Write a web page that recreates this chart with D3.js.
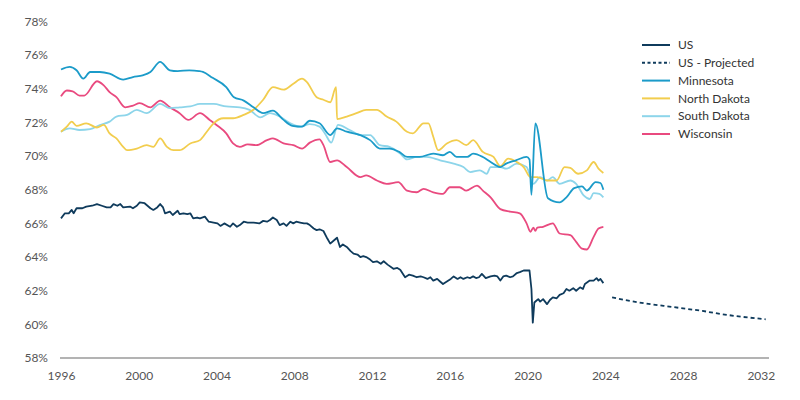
<!DOCTYPE html>
<html>
<head>
<meta charset="utf-8">
<script src="https://cdn.jsdelivr.net/npm/d3@7"></script>
<style>
  body { margin: 0; background: #fff; }
  svg text { font-family: Lato, "Noto Sans", sans-serif; }
</style>
</head>
<body>
<div id="chart"></div>
<script>
// [year, participation rate %]
const usRate = [[1996.0,66.3],[1996.2,66.6],[1996.4,66.6],[1996.55,66.8],[1996.65,66.6],[1996.8,66.9],[1997.1,66.9],[1997.3,67.0],[1997.6,67.05],[1997.85,67.15],[1998.1,67.05],[1998.35,66.95],[1998.55,66.95],[1998.7,67.15],[1998.9,67.05],[1999.05,67.15],[1999.2,66.95],[1999.55,67.0],[1999.7,66.9],[1999.9,67.05],[2000.05,67.25],[2000.3,67.2],[2000.6,66.9],[2000.75,66.8],[2000.95,66.95],[2001.1,67.15],[2001.25,66.95],[2001.35,66.6],[2001.6,66.7],[2001.75,66.5],[2002.0,66.75],[2002.1,66.55],[2002.3,66.6],[2002.5,66.55],[2002.65,66.6],[2002.8,66.3],[2003.0,66.35],[2003.15,66.3],[2003.4,66.4],[2003.6,66.1],[2003.85,66.05],[2004.05,66.0],[2004.2,65.85],[2004.4,66.0],[2004.7,65.8],[2004.85,66.0],[2005.05,65.8],[2005.2,65.9],[2005.4,66.1],[2005.6,66.05],[2005.9,66.05],[2006.2,66.0],[2006.4,66.15],[2006.6,66.1],[2006.75,66.2],[2006.9,66.35],[2007.1,66.2],[2007.25,65.9],[2007.45,66.0],[2007.6,65.85],[2007.8,66.1],[2007.95,66.0],[2008.1,66.1],[2008.3,66.05],[2008.5,66.0],[2008.65,66.0],[2008.8,65.9],[2009.0,65.7],[2009.15,65.6],[2009.3,65.65],[2009.5,65.55],[2009.7,65.1],[2009.85,64.8],[2010.05,65.0],[2010.2,65.15],[2010.35,64.6],[2010.5,64.75],[2010.7,64.6],[2010.9,64.35],[2011.05,64.2],[2011.25,64.15],[2011.4,64.0],[2011.55,64.05],[2011.7,64.0],[2011.9,63.85],[2012.05,63.7],[2012.25,63.75],[2012.45,63.6],[2012.6,63.75],[2012.8,63.55],[2013.1,63.3],[2013.3,63.35],[2013.45,63.25],[2013.7,62.8],[2013.9,62.95],[2014.1,62.9],[2014.3,62.8],[2014.5,62.85],[2014.65,62.8],[2014.85,62.7],[2015.0,62.8],[2015.15,62.6],[2015.35,62.7],[2015.5,62.55],[2015.65,62.4],[2015.85,62.55],[2016.05,62.7],[2016.2,62.85],[2016.4,62.7],[2016.55,62.8],[2016.7,62.7],[2016.9,62.8],[2017.05,62.75],[2017.2,62.85],[2017.35,62.75],[2017.5,62.8],[2017.65,63.0],[2017.85,62.75],[2018.1,62.85],[2018.3,62.9],[2018.45,62.85],[2018.6,62.6],[2018.75,62.85],[2018.9,62.9],[2019.1,62.8],[2019.25,62.85],[2019.45,63.05],[2019.6,63.1],[2019.8,63.2],[2020.1,63.2],[2020.2,62.1],[2020.27,60.1],[2020.35,61.3],[2020.45,61.4],[2020.55,61.5],[2020.65,61.35],[2020.8,61.5],[2021.0,61.2],[2021.15,61.45],[2021.3,61.6],[2021.5,61.55],[2021.65,61.75],[2021.85,61.85],[2022.0,62.1],[2022.15,62.0],[2022.35,62.15],[2022.5,62.0],[2022.7,62.2],[2022.85,62.1],[2022.95,62.4],[2023.2,62.6],[2023.4,62.6],[2023.55,62.75],[2023.65,62.6],[2023.75,62.7],[2023.9,62.45]];

const usProjected = [[2024.35,61.6],[2025,61.45],[2026,61.25],[2027,61.1],[2028,60.95],[2029,60.8],[2030,60.6],[2031,60.45],[2032.25,60.3]];

const minnesota = [[1996.0,75.15],[1996.45,75.3],[1996.8,75.1],[1997.15,74.6],[1997.5,75.0],[1998.0,75.0],[1998.5,74.9],[1999.2,74.55],[1999.7,74.7],[2000.2,74.8],[2000.6,75.0],[2001.1,75.6],[2001.6,75.1],[2002.0,75.05],[2002.6,75.1],[2003.1,75.05],[2003.3,75.0],[2003.8,74.65],[2004.5,74.1],[2004.9,73.5],[2005.4,73.3],[2005.9,72.9],[2006.4,72.55],[2006.9,72.7],[2007.4,72.2],[2007.9,71.8],[2008.4,71.75],[2008.8,72.1],[2009.3,71.95],[2009.85,71.25],[2010.2,71.65],[2010.7,71.45],[2011.4,71.25],[2011.9,70.95],[2012.4,70.45],[2012.9,70.45],[2013.4,70.25],[2013.8,69.95],[2014.45,69.95],[2015.15,70.15],[2015.65,70.05],[2016.0,70.25],[2016.35,69.95],[2016.9,69.95],[2017.2,70.15],[2017.7,69.95],[2018.1,69.65],[2018.6,69.35],[2018.9,69.55],[2019.4,69.75],[2019.95,69.95],[2020.1,69.8],[2020.2,67.7],[2020.4,71.95],[2021.05,67.5],[2021.65,67.25],[2022.0,67.55],[2022.4,68.1],[2022.8,68.2],[2023.05,67.95],[2023.5,68.45],[2023.75,68.4],[2023.9,68.0]];

const northDakota = [[1996.0,71.45],[1996.3,71.75],[1996.55,72.05],[1996.8,71.8],[1997.3,71.95],[1997.85,71.7],[1998.2,71.85],[1998.5,71.35],[1998.85,71.05],[1999.2,70.55],[1999.4,70.35],[1999.9,70.45],[2000.4,70.65],[2000.75,70.55],[2001.1,71.05],[2001.45,70.55],[2001.8,70.35],[2002.1,70.35],[2002.65,70.75],[2003.15,70.95],[2003.5,71.45],[2003.85,71.95],[2004.35,72.25],[2004.85,72.25],[2005.4,72.45],[2005.9,72.75],[2006.4,73.35],[2006.9,74.1],[2007.45,73.95],[2007.95,74.3],[2008.4,74.6],[2008.65,74.4],[2009.15,73.5],[2009.5,73.35],[2009.85,73.2],[2010.15,74.1],[2010.2,72.2],[2010.7,72.35],[2011.2,72.55],[2011.7,72.75],[2012.25,72.75],[2012.75,72.35],[2013.25,72.05],[2013.8,71.45],[2014.1,71.35],[2014.65,71.95],[2014.9,71.95],[2015.15,71.15],[2015.4,70.35],[2015.85,70.75],[2016.35,70.95],[2016.85,70.65],[2017.2,70.95],[2017.7,70.25],[2018.25,69.95],[2018.6,69.4],[2019.0,69.85],[2019.45,69.65],[2019.8,69.35],[2020.15,68.75],[2020.5,68.75],[2021.0,68.55],[2021.5,68.55],[2021.9,69.35],[2022.2,69.3],[2022.6,68.95],[2023.05,69.15],[2023.4,69.65],[2023.65,69.25],[2023.9,69.0]];

const southDakota = [[1996.0,71.45],[1996.45,71.65],[1996.95,71.55],[1997.5,71.6],[1998.0,71.85],[1998.5,72.05],[1998.85,72.35],[1999.4,72.45],[1999.9,72.75],[2000.4,72.55],[2001.1,73.1],[2001.6,72.85],[2002.1,72.9],[2002.65,72.95],[2003.15,73.1],[2003.85,73.1],[2004.5,72.95],[2005.2,72.9],[2005.7,72.75],[2006.25,72.3],[2006.75,72.55],[2007.25,72.35],[2007.8,71.95],[2008.3,71.75],[2008.8,71.9],[2009.3,71.75],[2009.6,71.3],[2009.9,70.8],[2010.25,71.85],[2010.85,71.55],[2011.4,71.25],[2011.9,71.25],[2012.4,70.65],[2012.9,70.55],[2013.45,70.15],[2013.8,69.8],[2014.3,69.95],[2014.8,69.95],[2015.5,69.75],[2016.2,69.55],[2016.7,69.35],[2017.05,69.05],[2017.55,69.15],[2017.9,68.95],[2018.1,69.35],[2018.6,69.35],[2018.9,69.25],[2019.45,69.55],[2019.95,69.35],[2020.3,68.35],[2020.65,68.75],[2021.0,68.55],[2021.3,68.75],[2021.65,68.35],[2022.2,68.55],[2022.5,68.35],[2022.9,67.65],[2023.2,67.45],[2023.4,67.8],[2023.7,67.75],[2023.9,67.55]];

const wisconsin = [[1996.0,73.55],[1996.3,73.9],[1996.6,73.85],[1996.95,73.6],[1997.2,73.6],[1997.85,74.45],[1998.2,74.2],[1998.5,73.8],[1998.85,73.5],[1999.3,72.9],[1999.7,73.0],[2000.05,73.15],[2000.6,72.9],[2001.1,73.3],[2001.6,72.9],[2002.1,72.55],[2002.55,72.15],[2003.15,72.55],[2003.65,72.15],[2004.0,71.85],[2004.5,71.35],[2004.85,70.75],[2005.2,70.55],[2005.6,70.7],[2006.05,70.65],[2006.6,70.95],[2006.9,71.05],[2007.45,70.75],[2007.95,70.65],[2008.4,70.45],[2008.8,70.8],[2009.3,71.0],[2009.5,70.65],[2009.85,69.65],[2010.2,69.75],[2010.7,69.35],[2011.4,68.75],[2011.7,68.85],[2012.25,68.55],[2012.75,68.35],[2013.35,68.45],[2013.8,67.95],[2014.3,67.85],[2014.65,68.05],[2015.15,67.85],[2015.65,67.75],[2016.0,68.15],[2016.5,68.15],[2016.85,67.95],[2017.4,68.25],[2017.7,67.95],[2018.1,67.55],[2018.6,66.85],[2019.1,66.7],[2019.6,66.6],[2019.95,66.0],[2020.15,65.5],[2020.3,65.75],[2020.4,65.55],[2020.5,65.75],[2020.8,65.8],[2021.3,66.0],[2021.65,65.4],[2022.2,65.3],[2022.5,64.9],[2022.8,64.5],[2023.05,64.45],[2023.4,65.2],[2023.65,65.7],[2023.9,65.8]];

const yearTicks = [1996, 2000, 2004, 2008, 2012, 2016, 2020, 2024, 2028, 2032];
const rateTicks = [58, 60, 62, 64, 66, 68, 70, 72, 74, 76, 78];

const seriesList = [
  { name: "US", data: usRate, color: "#0f3b5c", dash: null, smooth: false },
  { name: "US - Projected", data: usProjected, color: "#0f3b5c", dash: "4,3", smooth: false },
  { name: "Minnesota", data: minnesota, color: "#1b9bc9", dash: null, smooth: true },
  { name: "North Dakota", data: northDakota, color: "#f2cd4e", dash: null, smooth: true },
  { name: "South Dakota", data: southDakota, color: "#8dd5ea", dash: null, smooth: true },
  { name: "Wisconsin", data: wisconsin, color: "#e94a7f", dash: null, smooth: true }
];

const w = 800, h = 400;
const svg = d3.select("#chart").append("svg").attr("width", w).attr("height", h);

const x = d3.scaleLinear().domain([1996, 2032.4]).range([61, 768.6]);
const y = d3.scaleLinear().domain([58, 78]).range([358, 21.5]);

// y labels (no grid)
svg.selectAll(".ylab")
  .data(rateTicks)
  .enter()
  .append("text")
  .attr("x", 48)
  .attr("y", d => y(d))
  .attr("dy", "0.35em")
  .attr("text-anchor", "end")
  .attr("font-size", 12)
  .attr("fill", "#555")
  .text(d => d + "%");

// x axis line + labels
const xAxis = svg.append("g")
  .attr("transform", "translate(0," + 358 + ")")
  .call(d3.axisBottom(x).tickValues(yearTicks).tickFormat(d3.format("d")).tickSize(0).tickPadding(13));
xAxis.select(".domain").attr("stroke", "#9a9a9a").attr("stroke-width", 1.5)
  .attr("d", "M60,0H769");
xAxis.selectAll("text").attr("font-size", 12).attr("fill", "#555")
  .attr("font-family", "Lato, 'Noto Sans', sans-serif");

const sharpLine = d3.line().x(d => x(d[0])).y(d => y(d[1]));
const smoothLine = d3.line().x(d => x(d[0])).y(d => y(d[1])).curve(d3.curveMonotoneX);

// draw in order so US sits under states like reference
const drawOrder = ["US - Projected", "US", "Wisconsin", "South Dakota", "North Dakota", "Minnesota"];
drawOrder.forEach(n => {
  const s = seriesList.find(e => e.name === n);
  svg.append("path")
    .datum(s.data)
    .attr("fill", "none")
    .attr("stroke", s.color)
    .attr("stroke-width", 1.8)
    .attr("stroke-linejoin", "round")
    .attr("stroke-dasharray", s.dash)
    .attr("d", s.smooth ? smoothLine : sharpLine);
});

// legend
const legend = svg.append("g").attr("transform", "translate(642,45)");
const rows = legend.selectAll("g")
  .data(seriesList)
  .enter()
  .append("g")
  .attr("transform", (d, i) => "translate(0," + i * 17.8 + ")");
rows.append("line")
  .attr("x1", 0).attr("x2", 28).attr("y1", 0).attr("y2", 0)
  .attr("stroke", d => d.color)
  .attr("stroke-width", 2)
  .attr("stroke-dasharray", d => d.dash ? "3,2.5" : null);
rows.append("text")
  .attr("x", 36)
  .attr("y", 0)
  .attr("dy", "0.35em")
  .attr("font-size", 12)
  .attr("fill", "#333")
  .text(d => d.name);
</script>
</body>
</html>
